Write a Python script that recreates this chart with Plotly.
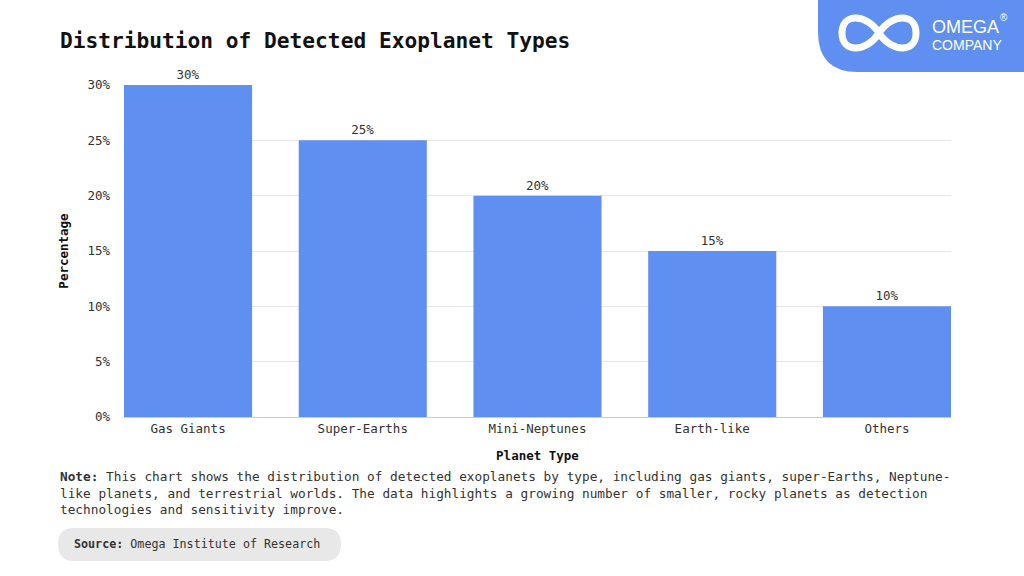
import plotly.graph_objects as go

categories = ["Gas Giants", "Super-Earths", "Mini-Neptunes", "Earth-like", "Others"]
values = [30, 25, 20, 15, 10]
y_ticks = [0, 5, 10, 15, 20, 25, 30]

W, H = 1024, 576
L, R, T, B = 124, 951, 85, 417
FONT = "DejaVu Sans Mono"
BAR = "#5F8FF0"
GAP = 0.267


def px(x):
    return (x - L) / (R - L)


def py(y):
    return (B - y) / (B - T)


fig = go.Figure()
fig.add_trace(go.Bar(
    x=categories, y=values,
    marker=dict(color=BAR, line=dict(width=0)),
    text=[f"{v}%" for v in values], textposition="outside",
    textfont=dict(family=FONT, size=12.5, color="#333333"),
    cliponaxis=False, hoverinfo="skip",
))

# logo background: rounded bottom-left
x0, x1, y0, y1 = 818, 1024, 0, 72
r = 40
path = (f"M {px(x0)},{py(y0)} L {px(x1)},{py(y0)} L {px(x1)},{py(y1)} "
        f"L {px(x0 + r)},{py(y1)} Q {px(x0)},{py(y1)} {px(x0)},{py(y1 - r)} Z")
shapes = [dict(type="path", xref="paper", yref="paper", path=path,
               fillcolor=BAR, line=dict(width=0), layer="below")]

# infinity mark
cx, cy, a, b = 879, 33, 37, 15
k = 1.33
inf = (f"M {px(cx)},{py(cy)} "
       f"C {px(cx + a * 0.35)},{py(cy - b * k)} {px(cx + a)},{py(cy - b * k)} {px(cx + a)},{py(cy)} "
       f"C {px(cx + a)},{py(cy + b * k)} {px(cx + a * 0.35)},{py(cy + b * k)} {px(cx)},{py(cy)} "
       f"C {px(cx - a * 0.35)},{py(cy - b * k)} {px(cx - a)},{py(cy - b * k)} {px(cx - a)},{py(cy)} "
       f"C {px(cx - a)},{py(cy + b * k)} {px(cx - a * 0.35)},{py(cy + b * k)} {px(cx)},{py(cy)}")
shapes.append(dict(type="path", xref="paper", yref="paper", path=inf,
                   fillcolor="rgba(0,0,0,0)", line=dict(color="white", width=7)))

# source box rounded
sx0, sx1, sy0, sy1 = 58, 341, 528, 561
rr = 16
spath = (f"M {px(sx0 + rr)},{py(sy0)} L {px(sx1 - rr)},{py(sy0)} "
         f"Q {px(sx1)},{py(sy0)} {px(sx1)},{py(sy0 + rr)} "
         f"Q {px(sx1)},{py(sy1)} {px(sx1 - rr)},{py(sy1)} "
         f"L {px(sx0 + rr)},{py(sy1)} "
         f"Q {px(sx0)},{py(sy1)} {px(sx0)},{py(sy0 + rr)} "
         f"Q {px(sx0)},{py(sy0)} {px(sx0 + rr)},{py(sy0)} Z")
shapes.append(dict(type="path", xref="paper", yref="paper", path=spath,
                   fillcolor="#E8E8E8", line=dict(width=0), layer="below"))

annotations = [
    dict(text="<b>Distribution of Detected Exoplanet Types</b>", x=px(58), y=py(40),
         xref="paper", yref="paper", xanchor="left", yanchor="middle", showarrow=False,
         font=dict(family=FONT, size=21.2, color="#111111")),
    dict(text="OMEGA", x=px(930), y=py(27), xref="paper", yref="paper",
         showarrow=False, xanchor="left", yanchor="middle",
         font=dict(family="Liberation Sans", size=18, color="white")),
    dict(text="®", x=px(998), y=py(18), xref="paper", yref="paper",
         showarrow=False, xanchor="left", yanchor="middle",
         font=dict(family="Liberation Sans", size=10, color="white")),
    dict(text="COMPANY", x=px(930), y=py(45), xref="paper", yref="paper",
         showarrow=False, xanchor="left", yanchor="middle",
         font=dict(family="Liberation Sans", size=14, color="white")),
    dict(text="<b>Note:</b> This chart shows the distribution of detected exoplanets by type, including gas giants, super-Earths, Neptune-<br>"
              "like planets, and terrestrial worlds. The data highlights a growing number of smaller, rocky planets as detection<br>"
              "technologies and sensitivity improve.",
         x=px(58), y=py(467), xref="paper", yref="paper", xanchor="left", yanchor="top",
         align="left", showarrow=False,
         font=dict(family=FONT, size=12.75, color="#333333")),
    dict(text="<b>Source:</b> Omega Institute of Research", x=px(72), y=py(544),
         xref="paper", yref="paper", xanchor="left", yanchor="middle", showarrow=False,
         font=dict(family=FONT, size=11.7, color="#333333")),
]

fig.update_layout(
    width=W, height=H,
    margin=dict(l=L, r=W - R, t=T, b=H - B, pad=0),
    paper_bgcolor="white", plot_bgcolor="white",
    bargap=GAP, showlegend=False,
    shapes=shapes, annotations=annotations,
    font=dict(family=FONT, size=12.5, color="#333333"),
    xaxis=dict(
        title=dict(text="<b>Planet Type</b>", font=dict(family=FONT, size=12.5, color="#111111"), standoff=16),
        range=[-0.5 + GAP / 2, len(categories) - 0.5 - GAP / 2],
        showline=True, linecolor="#CCCCCC", linewidth=1,
        tickfont=dict(family=FONT, size=12.5, color="#333333"),
        showgrid=False, ticks="",
    ),
    yaxis=dict(
        title=dict(text="<b>Percentage</b>", font=dict(family=FONT, size=12.5, color="#111111"), standoff=16),
        range=[0, 30], tickvals=y_ticks, ticktext=[f"{v}%" for v in y_ticks],
        showgrid=True, gridcolor="#E6E6E6", gridwidth=1, zeroline=False,
        tickfont=dict(family=FONT, size=12.5, color="#333333"), ticks="",
        ticklabelstandoff=13,
    ),
)

fig.write_html("out.html", config={"displayModeBar": False},
               post_script="document.body.style.margin='0px';")
